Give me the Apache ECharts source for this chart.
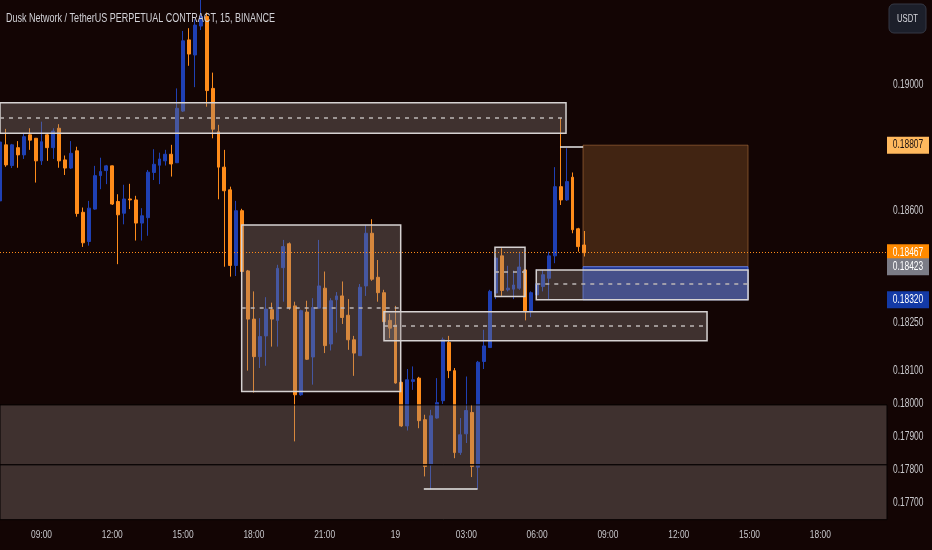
<!DOCTYPE html>
<html><head><meta charset="utf-8">
<script src="https://cdn.jsdelivr.net/npm/echarts@6/dist/echarts.min.js"></script>
<style>html,body{margin:0;padding:0;background:#130504;}#c{width:932px;height:550px;}</style>
</head><body><div id="c"></div>
<script>
// ---- data (15-minute slots counted from 09:00 on the 18th) ----
const firstSlot = -7;
const opens = [0.18630,0.18808,0.18742,0.18799,0.18776,0.18840,0.18829,0.18757,0.18840,0.18799,
0.18861,0.18760,0.18734,0.18789,0.18594,0.18502,0.18604,0.18710,0.18726,0.18741,
0.18628,0.18591,0.18636,0.18633,0.18560,0.18577,0.18720,0.18743,0.18757,0.18778,
0.18751,0.18916,0.19146,0.19097,0.19191,0.19222,0.18989,0.18850,0.18737,0.18665,
0.18427,0.18599,0.18410,0.18260,0.18144,0.18208,0.18289,0.18256,0.18420,0.18495,
0.18301,0.18027,0.18282,0.18143,0.18294,0.18356,0.18183,0.18320,0.18332,0.18272,
0.18196,0.18147,0.18363,0.18528,0.18390,0.18342,0.18256,0.18242,0.18065,0.17932,
0.18068,0.18078,0.17951,0.17814,0.17956,0.18009,0.18188,0.18101,0.17851,0.17908,
0.17973,0.17807,0.18129,0.18172,0.18341,0.18457,0.18351,0.18353,0.18356,0.18413,
0.18283,0.18335,0.18361,0.18387,0.18457,0.18675,0.18633,0.18705,0.18542,0.18491];
const closes = [0.18817,0.18744,0.18808,0.18776,0.18834,0.18823,0.18757,0.18818,0.18799,0.18852,
0.18757,0.18734,0.18781,0.18590,0.18498,0.18607,0.18710,0.18723,0.18741,0.18620,
0.18586,0.18636,0.18633,0.18560,0.18583,0.18721,0.18746,0.18763,0.18778,0.18747,
0.18925,0.19143,0.19100,0.19194,0.19222,0.18982,0.18858,0.18737,0.18662,0.18427,
0.18599,0.18408,0.18260,0.18144,0.18206,0.18291,0.18260,0.18418,0.18486,0.18296,
0.18027,0.18286,0.18136,0.18296,0.18363,0.18178,0.18317,0.18332,0.18265,0.18196,
0.18155,0.18359,0.18528,0.18384,0.18342,0.18252,0.18232,0.18063,0.17932,0.18073,
0.18073,0.17948,0.17809,0.17963,0.18003,0.18196,0.18101,0.17851,0.17905,0.17979,
0.17809,0.18127,0.18177,0.18346,0.18450,0.18349,0.18356,0.18366,0.18422,0.18283,
0.18342,0.18370,0.18398,0.18457,0.18675,0.18633,0.18691,0.18539,0.18486,0.18467];
const lows = [0.18624,0.18738,0.18734,0.18735,0.18763,0.18792,0.18688,0.18744,0.18757,0.18763,
0.18735,0.18712,0.18731,0.18580,0.18485,0.18489,0.18602,0.18667,0.18683,0.18617,
0.18431,0.18556,0.18604,0.18505,0.18505,0.18520,0.18696,0.18683,0.18742,0.18707,
0.18750,0.18913,0.19062,0.18993,0.19178,0.18930,0.18829,0.18635,0.18423,0.18392,
0.18394,0.18404,0.18101,0.18034,0.18109,0.18116,0.18175,0.18175,0.18314,0.18289,
0.17885,0.18024,0.18134,0.18058,0.18292,0.18155,0.18163,0.18218,0.18245,0.18165,
0.18085,0.18146,0.18332,0.18379,0.18314,0.18251,0.18201,0.18061,0.17929,0.17918,
0.18042,0.17925,0.17779,0.17740,0.17954,0.17999,0.18078,0.17834,0.17844,0.17880,
0.17777,0.17740,0.18106,0.18171,0.18322,0.18332,0.18346,0.18322,0.18351,0.18256,
0.18266,0.18330,0.18346,0.18320,0.18434,0.18617,0.18630,0.18528,0.18470,0.18455];
const highs = [0.18830,0.18859,0.18811,0.18820,0.18843,0.18861,0.18830,0.18882,0.18843,0.18861,
0.18874,0.18774,0.18820,0.18802,0.18609,0.18630,0.18741,0.18767,0.18744,0.18742,
0.18651,0.18681,0.18684,0.18646,0.18607,0.18728,0.18794,0.18783,0.18792,0.18808,
0.18989,0.19175,0.19184,0.19213,0.19300,0.19235,0.19040,0.18872,0.18792,0.18675,
0.18630,0.18605,0.18413,0.18346,0.18263,0.18328,0.18311,0.18429,0.18507,0.18499,
0.18314,0.18289,0.18317,0.18325,0.18507,0.18408,0.18325,0.18344,0.18377,0.18322,
0.18208,0.18369,0.18554,0.18572,0.18444,0.18351,0.18276,0.18301,0.18067,0.18106,
0.18114,0.18082,0.17966,0.17981,0.18078,0.18203,0.18208,0.18109,0.17956,0.18083,
0.17996,0.18131,0.18227,0.18351,0.18455,0.18481,0.18426,0.18411,0.18470,0.18416,
0.18346,0.18415,0.18413,0.18470,0.18737,0.18894,0.18797,0.18720,0.18545,0.18535];

const xTickSlots = [0,12,24,36,48,60,72,84,96,108,120,132];
const xTickLabels = ['09:00','12:00','15:00','18:00','21:00','19','03:00','06:00','09:00','12:00','15:00','18:00'];
const yTickValues = [0.19000,0.18600,0.18250,0.18100,0.18000,0.17900,0.17800,0.17700];
const yTickLabels = ['0.19000','0.18600','0.18250','0.18100','0.18000','0.17900','0.17800','0.17700'];

// zones: [slotStart, slotEnd, priceTop, priceBottom, midPrice]
const zoneTop    = [-7.03, 88.9, 0.18943, 0.18845, 0.18894];
const zoneLeft   = [33.93, 60.88, 0.18554, 0.18037, 0.18294];
const zoneMid    = [58.05, 112.8, 0.18283, 0.18193, 0.18240];
const zoneSmall  = [76.86, 81.95, 0.18484, 0.18330, 0.18408];
const zoneRight  = [83.86, 119.75, 0.18413, 0.18320, 0.18369];
const supportA   = [-7.03, 143.3, 0.17996, 0.17814];
const supportB   = [-7.03, 143.3, 0.17814, 0.17649];
const position   = {start: 91.78, end: 119.75, target: 0.18807, entry: 0.18423, stop: 0.18320};
const lastPrice = 0.18467;
const lowLine  = [64.8, 73.9, 0.17741];
const highLine = [87.9, 91.8, 0.18803];
const priceTags = [
  {v: 0.18807, text: '0.18807', bg: '#ffb95e', fg: '#1a1010'},
  {v: 0.18467, text: '0.18467', bg: '#ff8a00', fg: '#ffffff'},
  {v: 0.18423, text: '0.18423', bg: '#7b7c86', fg: '#ffffff'},
  {v: 0.18320, text: '0.18320', bg: '#133aa6', fg: '#ffffff'}
];
const title = 'Dusk Network / TetherUS PERPETUAL CONTRACT, 15, BINANCE';

// ---- chart ----
const FONT = "'Liberation Sans', Arial, sans-serif";
const X_MIN = -7.03, X_MAX = 143.3, Y_MIN = 0.17642, Y_MAX = 0.19276;
const UP = '#1f40b4', DOWN = '#ff8c1a';

const candles = opens.map((o, i) => [firstSlot + i, o, closes[i], lows[i], highs[i]]);

const zoneFill = 'rgba(140,128,126,0.36)';
const zoneBorder = {color: zoneFill, borderColor: '#d6d2d2', borderWidth: 1.5};
function area(z, style) {
  return [{coord: [z[0], z[2]], itemStyle: style}, {coord: [z[1], z[3]]}];
}
function hline(x1, x2, p, style) {
  return [{coord: [x1, p], lineStyle: style}, {coord: [x2, p]}];
}
const dash = {color: '#bdb7b7', width: 1.5, type: [4, 5]};

const chart = echarts.init(document.getElementById('c'), null, {renderer: 'canvas'});
chart.setOption({
  backgroundColor: '#130504',
  animation: false,
  grid: {left: 0, right: 45, top: 0, bottom: 28},
  xAxis: {
    type: 'value', min: X_MIN, max: X_MAX,
    axisLine: {show: false}, axisTick: {show: false}, splitLine: {show: false},
    axisLabel: {show: false}
  },
  yAxis: {
    type: 'log', logBase: 10, min: Y_MIN, max: Y_MAX, position: 'right',
    axisLine: {show: false}, axisTick: {show: false}, splitLine: {show: false},
    axisLabel: {show: false}
  },
  series: [
    {
      type: 'candlestick', z: 2, barWidth: 3.4,
      encode: {x: 0, y: [1, 2, 3, 4]},
      data: candles,
      itemStyle: {color: UP, color0: DOWN, borderColor: UP, borderColor0: DOWN, borderWidth: 1},
      emphasis: {disabled: true}
    },
    {
      type: 'line', data: [], z: 3, silent: true,
      markArea: {
        z: 3, silent: true,
        data: [
          [{coord: [position.start, position.target], itemStyle: {color: 'rgba(232,150,70,0.22)', borderColor: 'rgba(200,130,70,0.5)', borderWidth: 1}}, {coord: [position.end, position.entry]}],
          [{coord: [position.start, position.entry], itemStyle: {color: 'rgba(40,90,250,0.58)', borderColor: 'rgba(90,130,255,0.8)', borderWidth: 1}}, {coord: [position.end, position.stop]}]
        ]
      }
    },
    {
      type: 'line', data: [], z: 4, silent: true,
      markArea: {
        z: 4, silent: true,
        data: [
          area(zoneTop, zoneBorder),
          area(zoneLeft, zoneBorder),
          area(zoneMid, zoneBorder),
          area(zoneSmall, zoneBorder),
          area(zoneRight, zoneBorder),
          area(supportA, {color: 'rgba(140,128,126,0.36)', borderColor: '#050101', borderWidth: 1}),
          area(supportB, {color: 'rgba(140,128,126,0.36)', borderColor: '#050101', borderWidth: 1})
        ]
      },
      markLine: {
        z: 5, silent: true, symbol: ['none', 'none'], label: {show: false},
        emphasis: {disabled: true},
        data: [
          hline(zoneTop[0], zoneTop[1], zoneTop[4], dash),
          hline(zoneLeft[0], zoneLeft[1], zoneLeft[4], dash),
          hline(zoneMid[0], zoneMid[1], zoneMid[4], dash),
          hline(zoneSmall[0], zoneSmall[1], zoneSmall[4], dash),
          hline(zoneRight[0], zoneRight[1], zoneRight[4], dash),
          hline(X_MIN, X_MAX, lastPrice, {color: '#ff8c1a', width: 1, type: [1, 2]}),
          hline(lowLine[0], lowLine[1], lowLine[2], {color: '#e8e8e8', width: 1.5, type: 'solid'}),
          hline(highLine[0], highLine[1], highLine[2], {color: '#e8e8e8', width: 1.5, type: 'solid'})
        ]
      }
    }
  ]
});

// narrow text helper (the original UI font is condensed)
const mctx = document.createElement('canvas').getContext('2d');
function fitScale(text, size, targetWidth) {
  mctx.font = size + 'px ' + FONT;
  const w = mctx.measureText(text).width;
  return w > 0 ? targetWidth / w : 0.72;
}
function txt(text, x, y, size, fill, align, sx, z) {
  return {type: 'text', x: x, y: y, scaleX: sx, z: z || 12,
    style: {text: text, fill: fill, font: size + 'px ' + FONT, textVerticalAlign: 'middle', textAlign: align}};
}
const sxNum = fitScale('0.19000', 12, 30.5);
const sxTime = fitScale('09:00', 11.5, 21);

const gfx = [];
yTickValues.forEach((v, i) => {
  const y = chart.convertToPixel({yAxisIndex: 0}, v);
  gfx.push(txt(yTickLabels[i], 893, y, 12, '#c8c8cc', 'left', sxNum));
});
xTickSlots.forEach((s, i) => {
  const x = chart.convertToPixel({xAxisIndex: 0}, s);
  gfx.push(txt(xTickLabels[i], x, 535, 11.5, '#c8c8cc', 'center', sxTime));
});
priceTags.forEach(t => {
  const y = chart.convertToPixel({yAxisIndex: 0}, t.v);
  gfx.push({type: 'rect', shape: {x: 887, y: y - 8.5, width: 42, height: 17}, style: {fill: t.bg}, z: 10});
  gfx.push(txt(t.text, 908, y, 12, t.fg, 'center', sxNum, 11));
});
gfx.push(txt(title, 6, 18, 13, '#d2d2d7', 'left', fitScale(title, 13, 269), 20));
gfx.push({type: 'rect', shape: {x: 889, y: 4, width: 37, height: 29, r: 5}, style: {fill: '#1c1f2a', stroke: '#353945', lineWidth: 1}, z: 20});
gfx.push(txt('USDT', 907.5, 18.5, 11.5, '#d8d8de', 'center', fitScale('USDT', 11.5, 21), 21));
chart.setOption({graphic: gfx});
</script>
</body></html>
